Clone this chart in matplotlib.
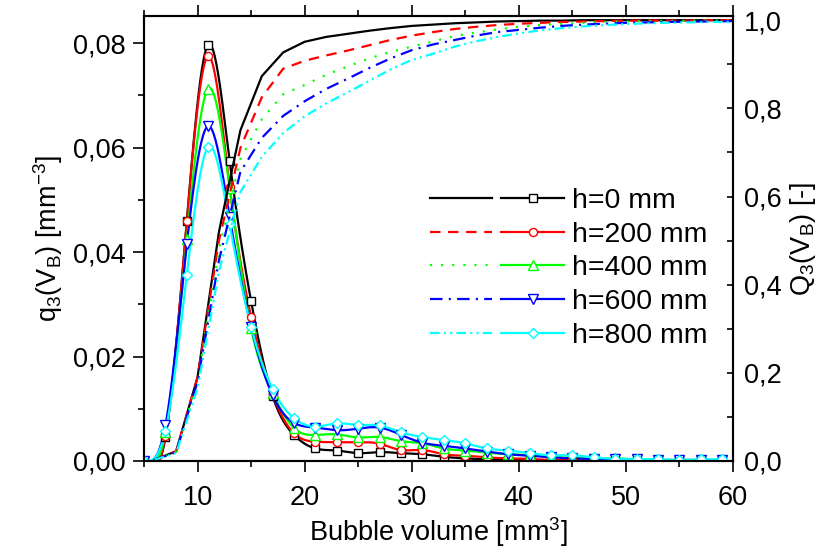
import numpy as np
import matplotlib
matplotlib.use('Agg')
import matplotlib.pyplot as plt
from matplotlib.legend_handler import HandlerTuple
from matplotlib.lines import Line2D
from matplotlib.ticker import MultipleLocator, FuncFormatter

plt.rcParams['font.family'] = ['Liberation Sans', 'DejaVu Sans']
plt.rcParams['mathtext.fontset'] = 'custom'
plt.rcParams['mathtext.rm'] = 'Liberation Sans'
plt.rcParams['mathtext.it'] = 'Liberation Sans'
plt.rcParams['mathtext.default'] = 'regular'
plt.rcParams['lines.scale_dashes'] = False

# ---------------- data ----------------
labels = ['h=0 mm', 'h=200 mm', 'h=400 mm', 'h=600 mm', 'h=800 mm']
colors = ['#000000', '#FF0000', '#00FF00', '#0000FF', '#00FFFF']
markers = ['s', 'o', '^', 'v', 'D']

# density q3 at bin centres
v_q = [5, 7, 9, 11, 13, 15, 17, 19, 21, 23, 25, 27, 29, 31, 33, 35, 37, 39,
       41, 43, 45, 47, 49, 51, 53, 55, 57, 59]
q_h0 = [0.0, 0.0045, 0.0460, 0.0797, 0.0574, 0.0306, 0.0125, 0.0050, 0.0024,
        0.0020, 0.0015, 0.0017, 0.0015, 0.0013, 0.0008, 0.0005, 0.0003, 0.0002,
        0.0001, 0.0001, 0.0001, 0.0, 0.0, 0.0, 0.0, 0.0, 0.0, 0.0]
q_h200 = [0.0, 0.0048, 0.0460, 0.0775, 0.0525, 0.0276, 0.0128, 0.0053, 0.0037,
          0.0036, 0.0036, 0.0033, 0.0021, 0.0021, 0.0013, 0.0010, 0.0007, 0.0005,
          0.0004, 0.0002, 0.0002, 0.0001, 0.0001, 0.0001, 0.0, 0.0, 0.0, 0.0]
q_h400 = [0.0, 0.0055, 0.0425, 0.0713, 0.0522, 0.0254, 0.0130, 0.0063, 0.0050,
          0.0051, 0.0045, 0.0046, 0.0038, 0.0034, 0.0024, 0.0020, 0.0016, 0.0013,
          0.0011, 0.0008, 0.0006, 0.0004, 0.0005, 0.0003, 0.0002, 0.0002, 0.0002, 0.0001]
q_h600 = [0.0, 0.0068, 0.0415, 0.0641, 0.0467, 0.0257, 0.0126, 0.0073, 0.0064,
          0.0059, 0.0062, 0.0064, 0.0050, 0.0035, 0.0029, 0.0024, 0.0018, 0.0013,
          0.0010, 0.0007, 0.0005, 0.0004, 0.0003, 0.0003, 0.0002, 0.0002, 0.0002, 0.0002]
q_h800 = [0.0, 0.0058, 0.0357, 0.0601, 0.0453, 0.0257, 0.0138, 0.0082, 0.0066,
          0.0072, 0.0069, 0.0068, 0.0055, 0.0046, 0.0040, 0.0034, 0.0024, 0.0020,
          0.0015, 0.0011, 0.0011, 0.0007, 0.0004, 0.0004, 0.0003, 0.0002, 0.0003, 0.0003]

# cumulative Q3 at bin edges
v_Q = [6, 8, 10, 12, 14, 16, 18, 20, 22, 24, 26, 28, 30, 32, 34, 36, 38, 40,
       42, 44, 46, 48, 50, 52, 54, 56, 58, 60]
Q_h0 = [0.003, 0.022, 0.190, 0.520, 0.750, 0.873, 0.927, 0.951, 0.962, 0.969,
        0.976, 0.982, 0.987, 0.990, 0.993, 0.995, 0.997, 0.998, 0.999, 0.999,
        1.000, 1.000, 1.000, 1.000, 1.000, 1.000, 1.000, 1.000]
Q_h200 = [0.003, 0.022, 0.190, 0.500, 0.710, 0.825, 0.890, 0.908, 0.920, 0.931,
          0.943, 0.955, 0.965, 0.973, 0.980, 0.985, 0.989, 0.992, 0.994, 0.996,
          0.997, 0.998, 0.999, 0.999, 0.999, 0.999, 1.000, 1.000]
Q_h400 = [0.003, 0.021, 0.180, 0.480, 0.685, 0.775, 0.832, 0.853, 0.876, 0.895,
          0.913, 0.928, 0.940, 0.952, 0.964, 0.972, 0.979, 0.985, 0.989, 0.992,
          0.994, 0.996, 0.997, 0.998, 0.998, 0.999, 0.999, 0.999]
Q_h600 = [0.003, 0.020, 0.180, 0.455, 0.656, 0.733, 0.783, 0.816, 0.844, 0.867,
          0.891, 0.913, 0.932, 0.945, 0.955, 0.965, 0.973, 0.978, 0.983, 0.987,
          0.990, 0.992, 0.994, 0.995, 0.996, 0.997, 0.997, 0.998]
Q_h800 = [0.003, 0.018, 0.165, 0.430, 0.610, 0.690, 0.744, 0.782, 0.811, 0.836,
          0.862, 0.888, 0.910, 0.924, 0.940, 0.952, 0.962, 0.970, 0.977, 0.982,
          0.986, 0.989, 0.991, 0.993, 0.994, 0.995, 0.996, 0.996]

q_series = [q_h0, q_h200, q_h400, q_h600, q_h800]
Q_series = [Q_h0, Q_h200, Q_h400, Q_h600, Q_h800]
Q_dashes = [None, (7.5, 5.5), (1.5, 6.5), (9, 4.5, 1.5, 4.5), (7, 3, 1.5, 3, 1.5, 3)]


def smooth_curve(x, y, n=24):
    """Natural cubic spline through the points (display only)."""
    x = np.asarray(x, float)
    y = np.asarray(y, float)
    h = np.diff(x)
    m = len(x)
    A = np.zeros((m, m))
    b = np.zeros(m)
    A[0, 0] = 1
    A[-1, -1] = 1
    for i in range(1, m - 1):
        A[i, i - 1] = h[i - 1]
        A[i, i] = 2 * (h[i - 1] + h[i])
        A[i, i + 1] = h[i]
        b[i] = 3 * ((y[i + 1] - y[i]) / h[i] - (y[i] - y[i - 1]) / h[i - 1])
    c = np.linalg.solve(A, b)
    bc = (y[1:] - y[:-1]) / h - h * (2 * c[:-1] + c[1:]) / 3
    d = (c[1:] - c[:-1]) / (3 * h)
    xs, ys = [], []
    for i in range(m - 1):
        t = np.linspace(0, h[i], n, endpoint=(i == m - 2))
        xs.append(x[i] + t)
        ys.append(y[i] + bc[i] * t + c[i] * t ** 2 + d[i] * t ** 3)
    return np.concatenate(xs), np.concatenate(ys)


FS = 19.5
LFS = 20.5
fig = plt.figure(figsize=(8.21, 5.52), dpi=100)
ax = fig.add_axes([144 / 821, 1 - 461 / 552, 589 / 821, 445 / 552])
ax2 = ax.twinx()

handles = []
for qv, Qv, col, mk, dsh, lab in zip(q_series, Q_series, colors, markers, Q_dashes, labels):
    xs, ys = smooth_curve(v_q, qv)
    ax.plot(xs, ys, color=col, lw=1.6, zorder=2)
    ms = 5.8 if mk in ('s', 'o') else (6.8 if mk in ('^', 'v') else 5.3)
    ax.plot(v_q, qv, ls='none', marker=mk, ms=ms, mfc='white', mec=col, mew=1.0, zorder=3)
    if dsh is None:
        lQ, = ax2.plot(v_Q, Qv, color=col, lw=1.6)
    else:
        lQ, = ax2.plot(v_Q, Qv, color=col, lw=1.6, dashes=dsh)
    hq = Line2D([], [], color=col, lw=1.6, marker=mk, ms=ms, mfc='white', mec=col, mew=1.0)
    handles.append((lQ, hq))

ax.set_xlim(5, 60)
ax.set_ylim(0, 0.0852)
ax2.set_ylim(0, 1.0095)

ax.xaxis.set_major_locator(MultipleLocator(10))
ax.xaxis.set_minor_locator(MultipleLocator(5))
ax.yaxis.set_major_locator(MultipleLocator(0.02))
ax.yaxis.set_minor_locator(MultipleLocator(0.01))
ax2.yaxis.set_major_locator(MultipleLocator(0.2))
ax2.yaxis.set_minor_locator(MultipleLocator(0.1))

ax.yaxis.set_major_formatter(FuncFormatter(lambda v, p: f"{v:.2f}".replace('.', ',')))
ax2.yaxis.set_major_formatter(FuncFormatter(lambda v, p: f"{v:.1f}".replace('.', ',')))
ax.xaxis.set_major_formatter(FuncFormatter(lambda v, p: f"{v:.0f}"))

for a in (ax, ax2):
    for s in a.spines.values():
        s.set_linewidth(1.5)
ax.tick_params(axis='both', which='major', labelsize=FS, width=1.2, length=8, direction='out', top=True)
ax.tick_params(axis='both', which='minor', width=1.2, length=4.5, direction='out', top=True)
ax.tick_params(axis='x', which='major', top=True, pad=9)
ax.tick_params(axis='y', which='major', pad=5)
ax2.tick_params(axis='y', which='major', labelsize=FS, width=1.2, length=4, direction='in', pad=8)
ax2.tick_params(axis='y', which='minor', width=1.2, length=4, direction='in')

ax.set_xlabel(r'Bubble volume [mm$^{3}$]', fontsize=FS, labelpad=3)
ax.set_ylabel(r'q$_{3}$(V$_{B}$) [mm$^{-3}$]', fontsize=FS, labelpad=6)
ax2.set_ylabel(r'Q$_{3}$(V$_{B}$) [-]', fontsize=FS, labelpad=4, rotation=90)

leg = ax2.legend(handles, labels, handler_map={tuple: HandlerTuple(ndivide=2, pad=0.32)},
                 loc='upper left', bbox_to_anchor=((430 - 144) / 589, (461 - 188) / 445),
                 frameon=False, fontsize=LFS, handlelength=4.7, handletextpad=0.3,
                 labelspacing=0.27, borderpad=0, borderaxespad=0, numpoints=1)

fig.savefig('out.png', dpi=100)
